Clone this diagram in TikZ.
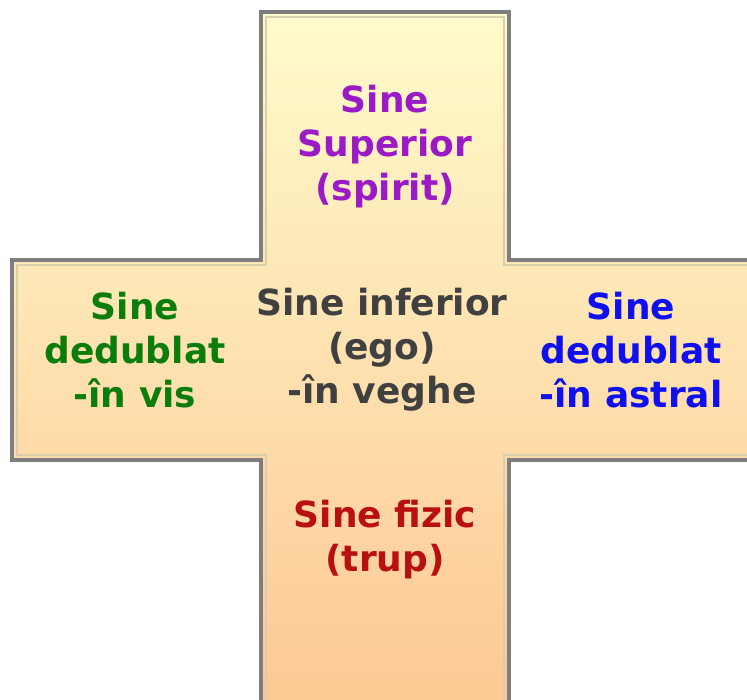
\documentclass[tikz,border=0pt]{standalone}
\usepackage{fontspec}
\setmainfont{DejaVu Sans}
\definecolor{crosstop}{HTML}{FFFBCC}
\definecolor{crossbot}{HTML}{FDC793}
\definecolor{crossedge}{HTML}{7E7E7E}
\definecolor{crossinner}{HTML}{D9CFAA}
\definecolor{txtpurple}{HTML}{9A1AC6}
\definecolor{txtgreen}{HTML}{0B7D0B}
\definecolor{txtgray}{HTML}{404040}
\definecolor{txtblue}{HTML}{1010EE}
\definecolor{txtred}{HTML}{B81010}
\tikzset{
  label/.style={align=center, font=\fontsize{36}{44}\selectfont\bfseries, inner sep=0pt},
}
\begin{document}
\begin{tikzpicture}[x=1pt,y=-1pt]
\useasboundingbox (0,0) rectangle (747,699);
\clip (0,0) rectangle (747,699);
\shade[top color=crosstop, bottom color=crossbot]
  (261,12) -- (509,12) -- (509,260) -- (770,260) -- (770,460) -- (509,460) -- (509,720) -- (261,720) -- (261,460) -- (12,460) -- (12,260) -- (261,260) -- cycle;
\draw[crossinner, line width=2]
  (266,17) -- (504,17) -- (504,265) -- (770,265) -- (770,455) -- (504,455) -- (504,720) -- (266,720) -- (266,455) -- (17,455) -- (17,265) -- (266,265) -- cycle;
\draw[crossedge, line width=4, line join=miter]
  (261,12) -- (509,12) -- (509,260) -- (770,260) -- (770,460) -- (509,460) -- (509,720) -- (261,720) -- (261,460) -- (12,460) -- (12,260) -- (261,260) -- cycle;
\node[label, text=txtpurple] (top) at (385,147) {Sine\\Superior\\(spirit)};
\node[label, text=txtgreen] (left) at (135,350) {Sine\\dedublat\\-în vis};
\node[label, text=txtgray] (mid) at (382,350) {Sine inferior\\(ego)\\-în veghe};
\node[label, text=txtblue] (right) at (631,350) {Sine\\dedublat\\-în astral};
\node[label, text=txtred] (bottom) at (385,540) {Sine fizic\\(trup)};
\end{tikzpicture}
\end{document}
